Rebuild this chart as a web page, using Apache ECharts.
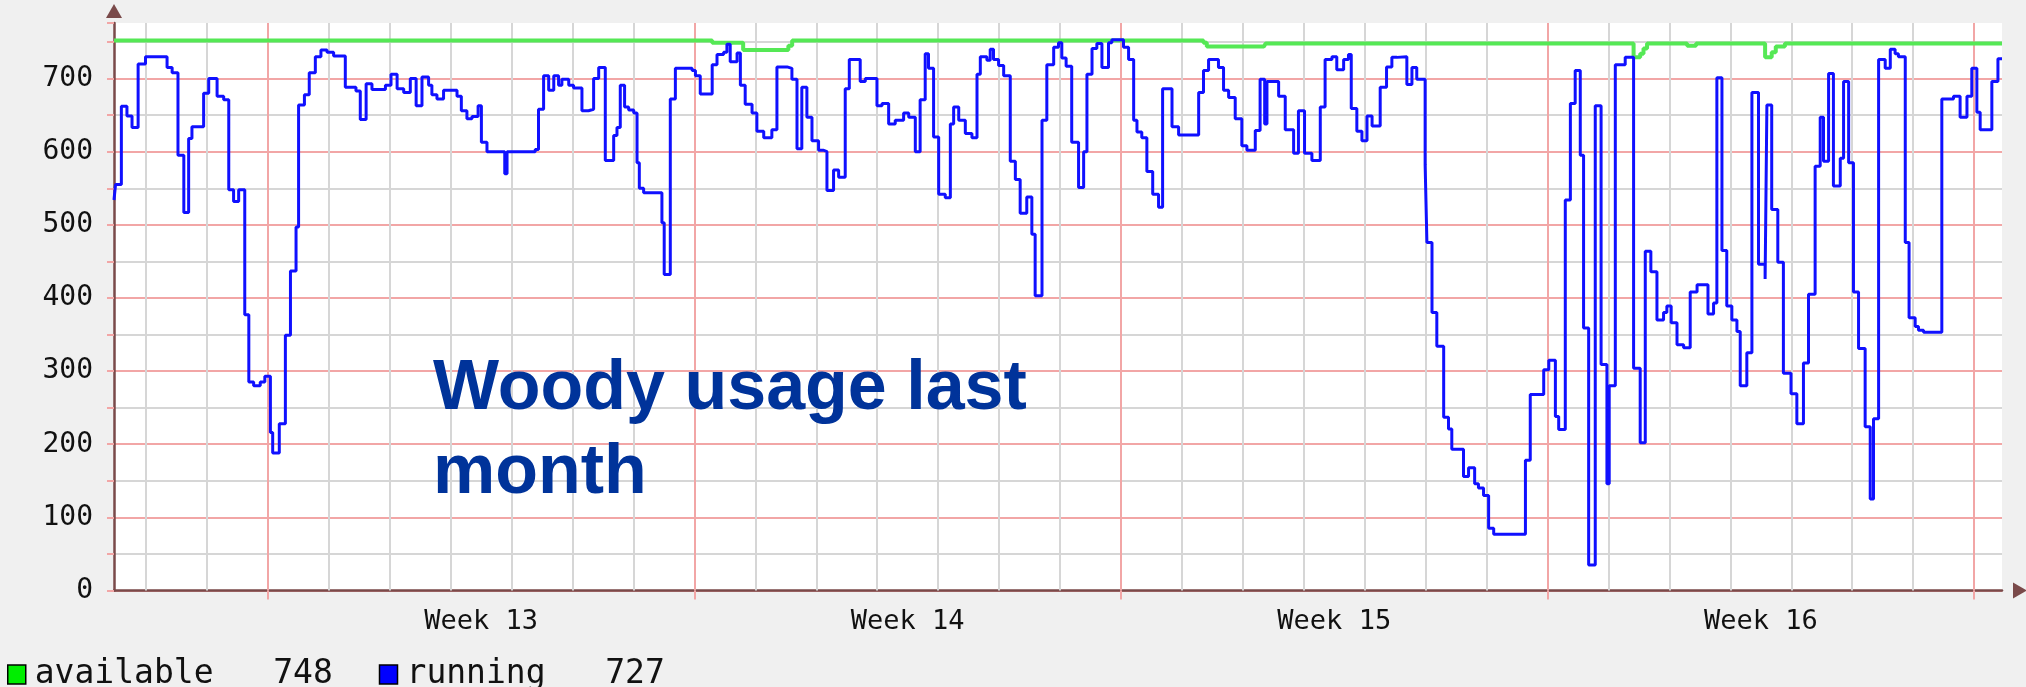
<!DOCTYPE html>
<html>
<head>
<meta charset="utf-8">
<script src="https://cdn.jsdelivr.net/npm/echarts@6/dist/echarts.min.js"></script>
<style>
html,body{margin:0;padding:0;background:#f0f0f0;}
#chart{width:2026px;height:687px;}
</style>
</head>
<body>
<div id="chart"></div>
<script>
// ---- data (x = hours since start of Week 13) ----
const xStart = -60.6;
const xEnd = 683.0;
const weekLabels = ['Week 13', 'Week 14', 'Week 15', 'Week 16'];
const weekStarts = [0, 168, 336, 504, 672];
const dayLinesHours = [-48, -24, 24, 48, 72, 96, 120, 144, 192, 216, 240, 264, 288, 312, 360, 384, 408, 432, 456, 480, 528, 552, 576, 600, 624, 648];
const yTicks = [0, 100, 200, 300, 400, 500, 600, 700];

const availableHours = [-60.6, 175.0, 187.2, 205.0, 206.5, 368.5, 369.8, 392.3, 393.0, 537.9, 540.5, 541.8, 543.2, 559.0, 562.5, 589.7, 592.3, 593.9, 597.5, 683.0];
const availableValues = [752, 749, 739, 745, 752, 749, 744, 746, 748, 729, 734, 741, 748, 745, 748, 729, 736, 744, 748, 748];

const runningHours = [
-60.6,-60.0,-57.7,-55.5,-53.5,-51.1,-48.2,-39.7,-37.7,-35.4,-33.1,-31.2,-29.9,-25.3,-23.3,-20.0,-17.4,-15.4,-13.5,-11.5,
-9.1,-7.5,-5.6,-3.0,-1.2,1.0,1.9,4.5,6.9,8.9,11.1,12.1,14.4,16.3,18.7,20.9,23.3,25.9,30.5,34.7,
36.4,38.7,41.0,46.3,48.5,50.9,53.5,56.1,58.4,60.7,63.3,64.6,66.6,69.2,74.5,76.2,78.4,80.4,82.8,84.1,
86.3,93.3,94.2,105.3,106.6,108.6,110.6,112.6,114.5,115.8,118.5,120.4,123.7,126.3,128.3,130.3,132.9,136.2,137.5,138.8,
140.5,142.1,144.1,145.4,146.3,148.0,155.2,156.1,158.5,160.5,167.1,168.4,170.3,175.0,176.9,179.5,180.8,182.1,184.8,186.1,
188.0,190.7,192.6,195.3,198.5,200.5,204.5,206.4,208.4,210.3,212.3,214.3,216.9,218.9,220.2,222.8,224.8,227.4,229.0,233.3,
235.3,239.9,241.9,244.5,247.1,250.4,252.4,255.0,256.9,258.9,260.2,262.2,264.2,266.8,268.8,270.1,272.1,274.7,277.3,279.3,
280.6,283.2,284.5,285.8,287.8,289.8,292.4,294.4,296.3,298.9,300.9,302.2,304.9,306.8,309.5,311.4,312.7,314.4,316.6,319.3,
321.3,322.6,324.6,326.5,328.5,331.1,332.4,337.0,339.0,341.0,342.3,344.2,346.2,348.5,350.8,352.4,356.1,358.7,366.6,368.5,
370.5,374.4,376.4,378.4,381.0,383.6,385.6,388.9,390.8,392.6,393.5,398.1,400.7,404.0,405.9,408.3,411.2,414.5,416.4,419.1,
421.0,423.7,425.6,426.7,428.9,430.9,432.9,434.9,438.1,440.6,442.7,444.7,448.6,450.6,452.5,455.8,456.5,458.5,460.4,463.1,
465.0,466.3,470.9,472.9,475.3,476.8,478.8,480.8,482.8,495.3,497.2,502.5,504.5,507.1,508.4,511.0,513.0,514.9,516.9,518.2,
520.2,522.8,525.1,527.4,528.3,530.7,534.6,537.9,540.5,542.5,544.7,547.1,549.7,551.0,552.7,555.0,557.6,560.2,562.9,567.2,
569.4,570.7,572.7,574.6,576.6,578.6,579.9,582.5,584.5,587.1,589.7,590.4,592.3,594.7,596.9,599.9,602.2,604.8,606.8,609.4,
611.4,612.7,614.7,616.6,619.3,620.6,622.6,624.5,626.5,629.1,631.1,632.4,634.4,637.0,639.0,640.9,642.2,644.9,646.4,648.8,
650.1,652.1,659.3,663.9,666.5,669.2,671.1,673.1,674.4,679.0,681.4,683.0
];
const runningValues = [
534,555,662,649,633,720,730,715,708,595,517,618,634,680,700,676,671,548,532,548,
377,285,280,285,293,216,188,228,349,437,497,664,678,708,730,739,736,731,688,683,
644,693,685,691,706,686,681,700,663,702,691,678,672,684,676,656,645,648,663,613,
600,570,600,603,658,704,684,704,691,699,691,687,656,658,700,715,588,622,633,691,
661,657,653,585,550,544,503,432,672,714,711,704,679,719,733,736,747,723,735,691,
665,653,628,619,630,716,714,699,604,688,647,615,602,600,547,575,565,686,726,696,
700,663,666,638,643,653,647,600,671,734,714,620,542,537,638,661,643,625,619,706,
730,725,740,726,718,704,587,562,516,538,487,403,643,719,743,749,728,717,613,551,
600,706,741,748,715,749,753,743,726,643,627,619,573,542,524,686,634,623,681,711,
726,715,684,674,645,608,602,629,699,638,696,676,630,598,656,598,588,661,726,730,
712,726,733,659,628,615,649,635,688,716,729,730,692,715,699,582,476,380,334,237,
221,193,156,168,146,140,130,85,77,178,268,302,315,238,220,534,666,711,595,359,
35,663,309,146,280,719,729,304,202,464,436,370,380,389,366,336,332,408,418,378,
393,701,465,389,370,354,280,325,681,446,426,664,521,449,297,269,228,311,405,580,
647,587,707,553,591,696,585,408,331,224,125,235,726,714,740,734,730,476,373,361,
356,353,672,676,647,676,714,654,630,696,727,727
];

const titleLines = ['Woody usage last', 'month'];

// ---- build ----
function pairs(xs, ys) { return xs.map((x, i) => [x, ys[i]]); }
const lastAvail = availableValues[availableValues.length - 1];
const lastRun = runningValues[runningValues.length - 1];

const gridLines = dayLinesHours.map(h => ({ xAxis: h, lineStyle: { color: '#d6d6d6', width: 2, type: 'solid' } }))
  .concat(weekStarts.map(h => ({ xAxis: h, lineStyle: { color: '#f2a6a6', width: 2, type: 'solid' } })));

const chart = echarts.init(document.getElementById('chart'), null, { renderer: 'canvas' });
const mono = "'DejaVu Sans Mono', monospace";
const axisColor = '#7a4a4a';

chart.setOption({
  backgroundColor: '#f0f0f0',
  animation: false,
  grid: { left: 114, right: 24, top: 23, bottom: 96.5, show: true, backgroundColor: '#ffffff', borderWidth: 0 },
  xAxis: {
    type: 'value', min: xStart, max: xEnd,
    axisLine: { show: true, onZero: false, lineStyle: { color: axisColor, width: 2.5 }, symbol: ['none', 'triangle'], symbolSize: [16, 14], symbolOffset: [0, 18] },
    axisTick: { show: true, customValues: weekStarts, length: 9, inside: false, lineStyle: { color: '#f2a6a6', width: 2 } },
    axisLabel: {
      customValues: weekStarts.slice(0, 4).map(h => h + 84),
      formatter: v => weekLabels[Math.round((v - 84) / 168)],
      fontFamily: mono, fontSize: 27, color: '#111', margin: 18
    },
    splitLine: { show: false }
  },
  yAxis: {
    type: 'value', min: 0, max: 776, interval: 50,
    axisLine: { show: true, onZero: false, lineStyle: { color: axisColor, width: 2.5 }, symbol: ['none', 'triangle'], symbolSize: [16, 14], symbolOffset: [0, 12] },
    axisTick: { show: true, length: 7, lineStyle: { color: '#f2a6a6', width: 2 } },
    axisLabel: {
      formatter: v => (yTicks.indexOf(v) >= 0 ? String(v) : ''),
      fontFamily: mono, fontSize: 28, color: '#111', margin: 21
    },
    splitLine: { show: true, showMaxLine: false, lineStyle: { color: ['#f2a6a6', '#d6d6d6'], width: 2 } }
  },
  legend: {
    left: 2, top: 653, itemGap: 46, itemWidth: 18, itemHeight: 19, icon: 'rect',
    textStyle: { fontFamily: mono, fontSize: 33, color: '#111', padding: [0, 0, 0, 4] },
    data: [
      { name: 'available', itemStyle: { color: '#00ee00', borderColor: '#000', borderWidth: 1.5 } },
      { name: 'running', itemStyle: { color: '#0000ff', borderColor: '#000', borderWidth: 1.5 } }
    ],
    formatter: name => name === 'available' ? 'available   ' + lastAvail : 'running   ' + lastRun
  },
  graphic: [
    { type: 'text', left: 433, top: 355, z: 100, style: { text: titleLines[0], font: "bold 70px 'Liberation Sans', Arial, sans-serif", fill: '#00339a' } },
    { type: 'text', left: 433, top: 439, z: 100, style: { text: titleLines[1], font: "bold 70px 'Liberation Sans', Arial, sans-serif", fill: '#00339a' } }
  ],
  series: [
    {
      name: 'available', type: 'line', step: 'end', data: pairs(availableHours, availableValues),
      showSymbol: false, z: 5, lineStyle: { color: '#55e855', width: 4 }, itemStyle: { color: '#00ee00' },
      markLine: { silent: true, symbol: 'none', label: { show: false }, z: 1, data: gridLines, animation: false }
    },
    {
      name: 'running', type: 'line', step: 'end', data: pairs(runningHours, runningValues),
      showSymbol: false, z: 6, lineStyle: { color: '#1010ff', width: 3 }, itemStyle: { color: '#0000ff' }
    }
  ]
});
</script>
</body>
</html>
